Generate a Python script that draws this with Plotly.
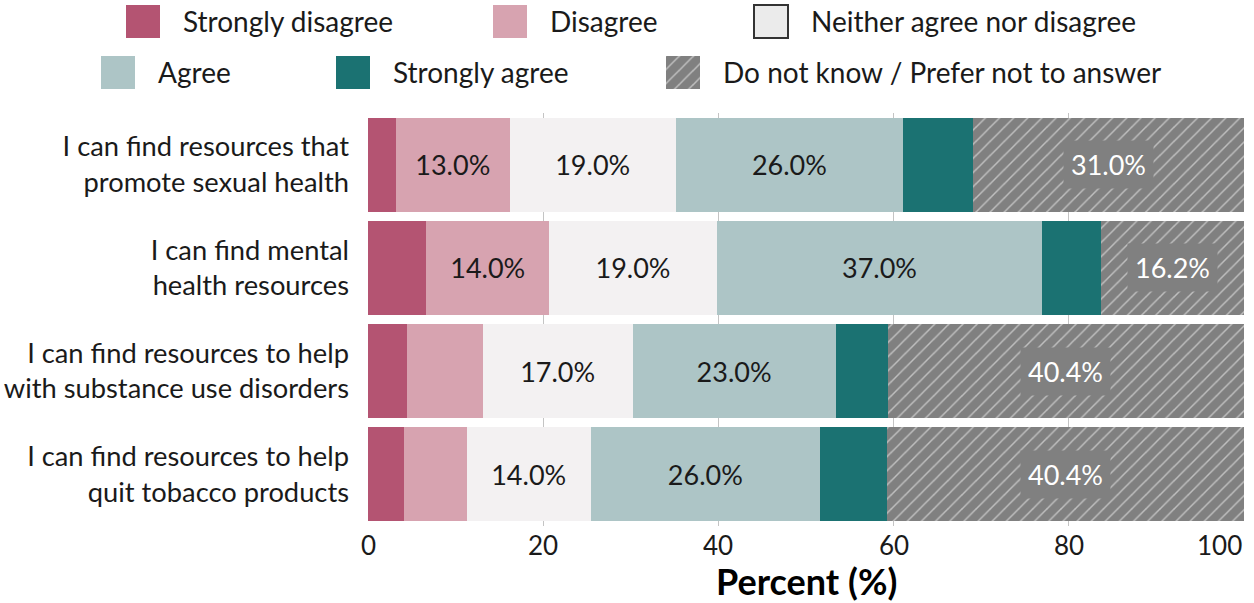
import plotly.graph_objects as go

# ---------------- data ----------------
categories = [
    "I can find resources that<br>promote sexual health",
    "I can find mental<br>health resources",
    "I can find resources to help<br>with substance use disorders",
    "I can find resources to help<br>quit tobacco products",
]
responses = [
    "Strongly disagree",
    "Disagree",
    "Neither agree nor disagree",
    "Agree",
    "Strongly agree",
    "Do not know / Prefer not to answer",
]
strongly_disagree = [3.2, 6.6, 4.4, 4.1]
disagree = [13.0, 14.0, 8.6, 7.1]
neither = [19.0, 19.0, 17.0, 14.0]
agree = [26.0, 37.0, 23.0, 26.0]
strongly_agree = [8.0, 6.7, 5.9, 7.6]
dont_know = [31.0, 16.2, 40.4, 40.4]
x_tick_values = [0, 20, 40, 60, 80, 100]
x_tick_labels = ["0", "20", "40", "60", "80", "100"]
x_title = "Percent (%)"

series = [strongly_disagree, disagree, neither, agree, strongly_agree, dont_know]

# ---------------- style ----------------
FONT = "Lato"
TXT = "#1a1a1a"
colors = ["#b45472", "#d7a3b0", "#f3f1f2", "#adc5c6", "#1b7272", "#808080"]
legend_colors = ["#b45472", "#d7a3b0", "#ebebeb", "#adc5c6", "#1b7272", "#808080"]
hatch = dict(shape="/", fgcolor="white", size=10, solidity=0.15)

W, H = 1254, 603
PLOT_R = 1244          # pixel of x = 100
PLOT_L = 368           # pixel of x = 0
PLOT_T, PLOT_B = 113, 526

# normalise every row to 100 %
row_tot = [sum(s[i] for s in series) for i in range(len(categories))]
norm = [[s[i] / row_tot[i] * 100 for i in range(len(categories))] for s in series]

fig = go.Figure()

for k, (name, raw, vals) in enumerate(zip(responses, series, norm)):
    is_dk = k == len(responses) - 1
    text = [("" if (v < 10 or is_dk) else f"{v:.1f}%") for v in raw]
    fig.add_trace(go.Bar(
        y=categories, x=vals, orientation="h", name=name,
        marker=dict(color=colors[k], line=dict(width=0),
                    pattern=hatch if is_dk else None),
        text=text, textposition="inside", insidetextanchor="middle",
        textangle=0, constraintext="none",
        textfont=dict(family=FONT, size=27, color=TXT),
        showlegend=False, hoverinfo="skip",
        xaxis="x", yaxis="y",
    ))

# DK labels with grey box
annotations = []
for i, cat in enumerate(categories):
    start = sum(norm[j][i] for j in range(5))
    mid = start + norm[5][i] / 2
    annotations.append(dict(
        x=mid, y=cat, xref="x", yref="y", text=f"{dont_know[i]:.1f}%",
        showarrow=False, font=dict(family=FONT, size=27, color="white"),
        bgcolor="#808080", borderpad=7,
    ))

# x tick labels (last one right-aligned so it stays inside the picture)
for v, lab in zip(x_tick_values, x_tick_labels):
    annotations.append(dict(
        x=v, y=(H - 545) / H, xref="x", yref="paper", text=lab,
        showarrow=False, xanchor="right" if v == x_tick_values[-1] else "center",
        yanchor="middle", font=dict(family=FONT, size=26, color=TXT),
    ))
annotations.append(dict(
    x=(PLOT_L + PLOT_R) / 2, y=(H - 581) / H, xref="x2", yref="paper",
    text=f"<b>{x_title}</b>", showarrow=False, yanchor="middle",
    font=dict(family=FONT, size=36, color="#000"),
))

# ---------------- custom legend (pixel axis) ----------------
legend_slots = [  # (swatch left px, row centre px)
    (126, 21), (493, 21), (754, 21),
    (101, 72), (336, 72), (666, 72),
]
SW, SH = 34, 33
for k, (name, (lx, cy)) in enumerate(zip(responses, legend_slots)):
    is_dk = k == len(responses) - 1
    is_n = k == 2
    fig.add_trace(go.Bar(
        x=[lx + SW / 2], y=[SH], base=[cy - SH / 2], width=[SW],
        marker=dict(color=legend_colors[k],
                    line=dict(width=2 if is_n else 0, color="#333333"),
                    pattern=hatch if is_dk else None),
        showlegend=False, hoverinfo="skip", xaxis="x2", yaxis="y2",
    ))
    annotations.append(dict(
        x=lx + SW + 21, y=cy, xref="x2", yref="y2", text=name,
        showarrow=False, xanchor="left", yanchor="middle",
        font=dict(family=FONT, size=28, color=TXT),
    ))

fig.update_layout(
    width=W, height=H,
    margin=dict(l=0, r=W - PLOT_R, t=0, b=0, pad=0, autoexpand=False),
    paper_bgcolor="white", plot_bgcolor="rgba(0,0,0,0)",
    barmode="stack", bargap=0.09,
    font=dict(family=FONT, color=TXT),
    annotations=annotations,
    xaxis=dict(domain=[PLOT_L / PLOT_R, 1], range=[0, 100],
               tickvals=x_tick_values, showticklabels=False,
               showgrid=True, gridcolor="#c4c4c4", gridwidth=1.2,
               zeroline=False, showline=False, ticks="", fixedrange=True,
               automargin=False),
    yaxis=dict(domain=[(H - PLOT_B) / H, (H - PLOT_T) / H],
               categoryorder="array", categoryarray=categories,
               autorange="reversed", showgrid=False, zeroline=False,
               ticks="", ticklabelstandoff=18, automargin=False,
               fixedrange=True,
               tickfont=dict(family=FONT, size=27.3, color=TXT)),
    xaxis2=dict(domain=[0, 1], range=[0, PLOT_R], visible=False,
                anchor="y2", fixedrange=True, automargin=False),
    yaxis2=dict(domain=[0, 1], range=[H, 0], visible=False,
                anchor="x2", fixedrange=True, automargin=False),
    showlegend=False,
)

fig.write_html("out.html",
               config={"displayModeBar": False, "staticPlot": True},
               post_script="document.body.style.margin='0px';"
                           "document.body.style.overflow='hidden';")
